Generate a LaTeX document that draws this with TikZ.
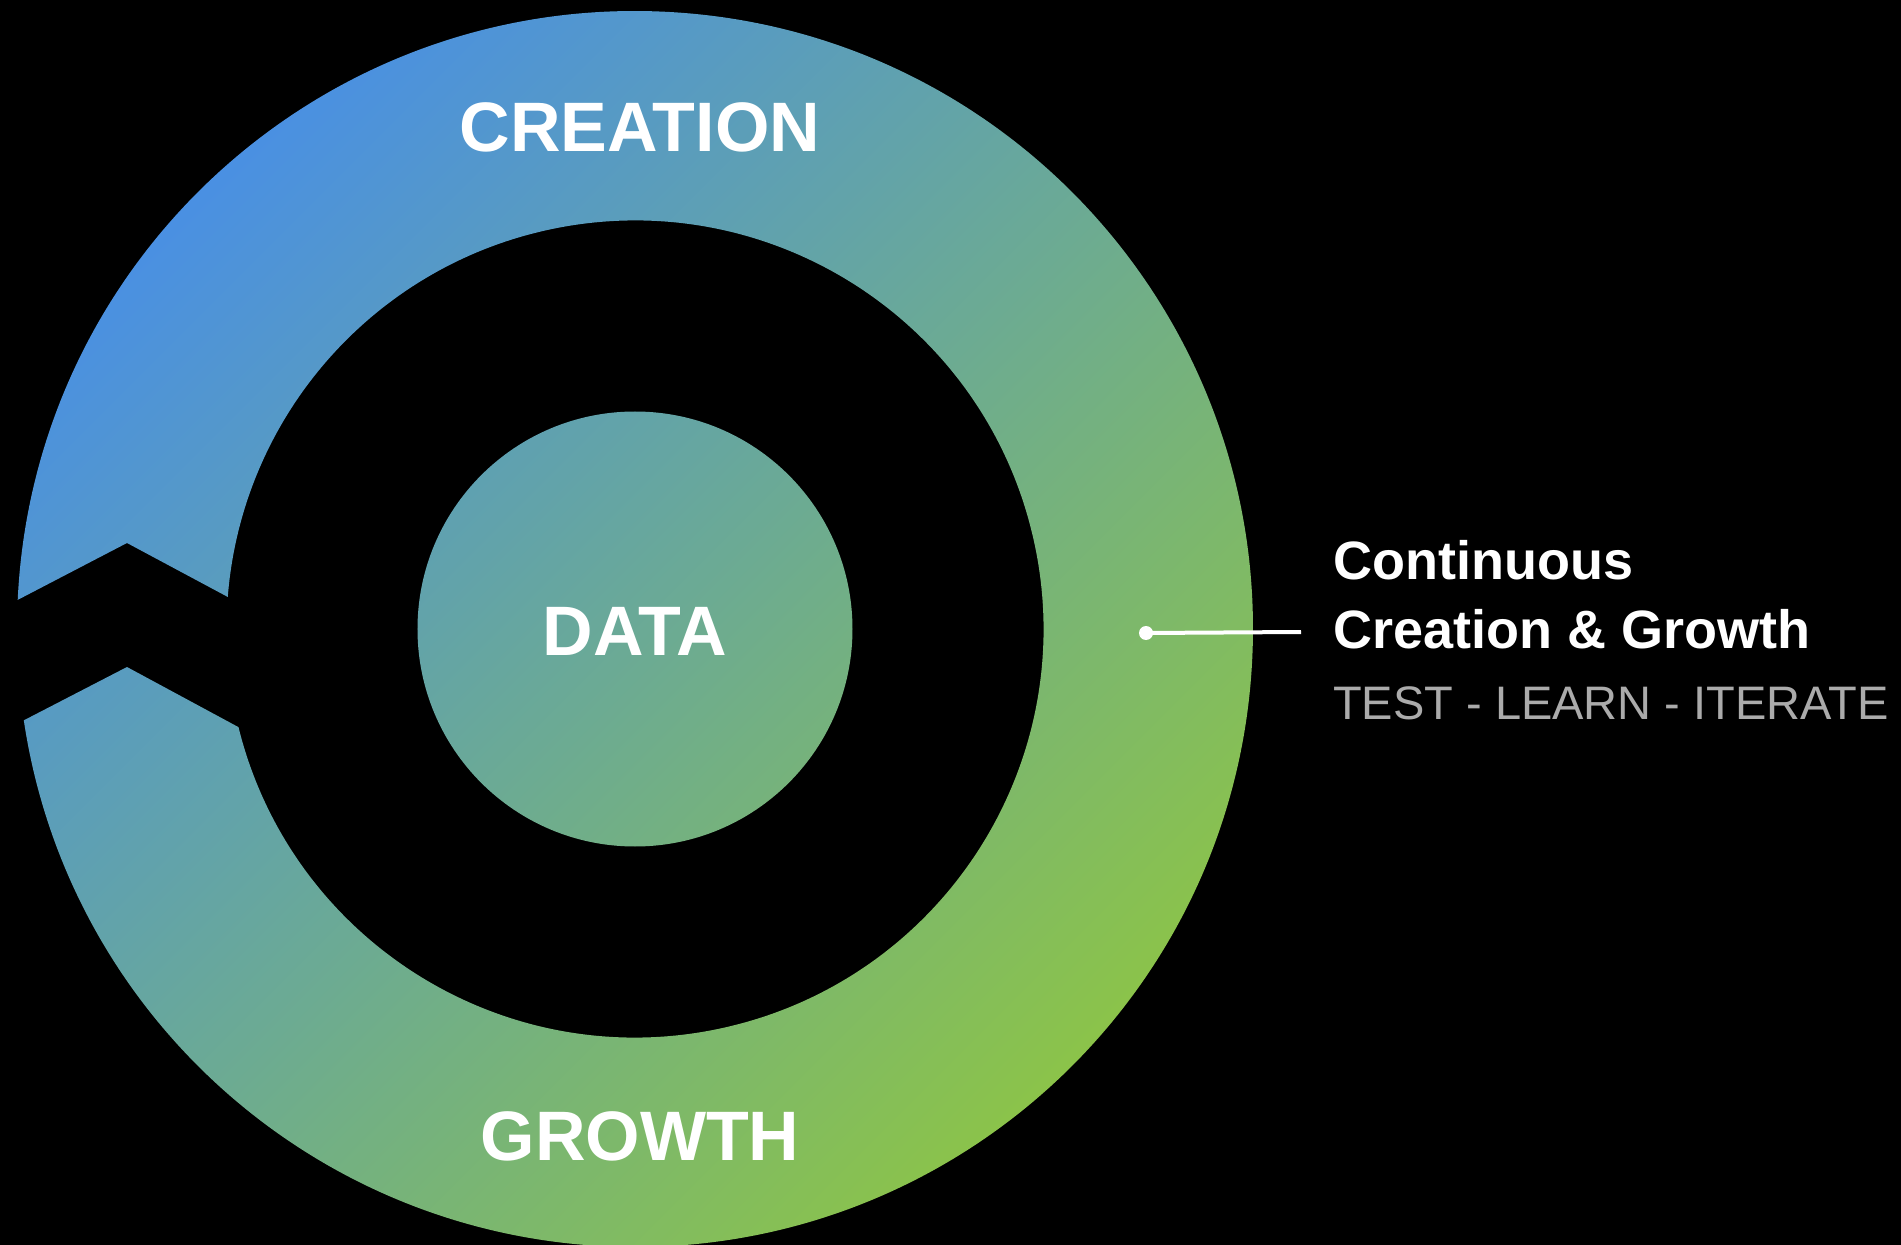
\documentclass[tikz,border=0pt]{standalone}
\usepackage{fontspec}
\setmainfont{Liberation Sans}
\definecolor{cblue}{HTML}{4A90E2}
\definecolor{cmid}{HTML}{62A8A8}
\definecolor{cgreen}{HTML}{8BC34A}
\definecolor{subgray}{HTML}{ABABAB}
\begin{document}
\begin{tikzpicture}[x=1pt,y=1pt,
  biglabel/.style={text=white,font=\fontsize{70}{84}\selectfont\bfseries,inner sep=0pt,anchor=base},
  sidehead/.style={text=white,font=\fontsize{54}{64}\selectfont\bfseries,inner sep=0pt,anchor=base west},
  sidesub/.style={text=subgray,font=\fontsize{47}{56}\selectfont,inner sep=0pt,anchor=base west},
  pin/.style={circle,fill=white,inner sep=0pt,minimum size=14pt},
  leader/.style={white,line width=4pt}]
\fill[black] (-635,-616) rectangle (1266,629);
\useasboundingbox (-635,-616) rectangle (1266,629);
\begin{scope}[even odd rule]
\clip (177.3:618) arc[start angle=177.3,end angle=-171.5,radius=618] -- (-508,-38) -- (-166.1:408.5) arc[start angle=-166.1,end angle=175.5,radius=408.5] -- (-508,86) -- cycle
  (0,0) circle[radius=217.5];
\shade[top color=cblue,middle color=cmid,bottom color=cgreen,shading angle=45] (-618,-618) rectangle (618,618);
\end{scope}
\node[biglabel] (creation) at (5,477.5) {CREATION};
\node[biglabel] (data) at (0,-26) {DATA};
\node[biglabel] (growth) at (5,-531) {GROWTH};
\coordinate (lineend) at (666,-3);
\draw[leader] (511,-4) -- (lineend);
\node[pin] (dot) at (511,-4) {};
\node[sidehead] (cont) at (698,49) {Continuous};
\node[sidehead] (cg) at (698,-19) {Creation \& Growth};
\node[sidesub] (tli) at (698,-90) {TEST - LEARN - ITERATE};
\end{tikzpicture}
\end{document}
